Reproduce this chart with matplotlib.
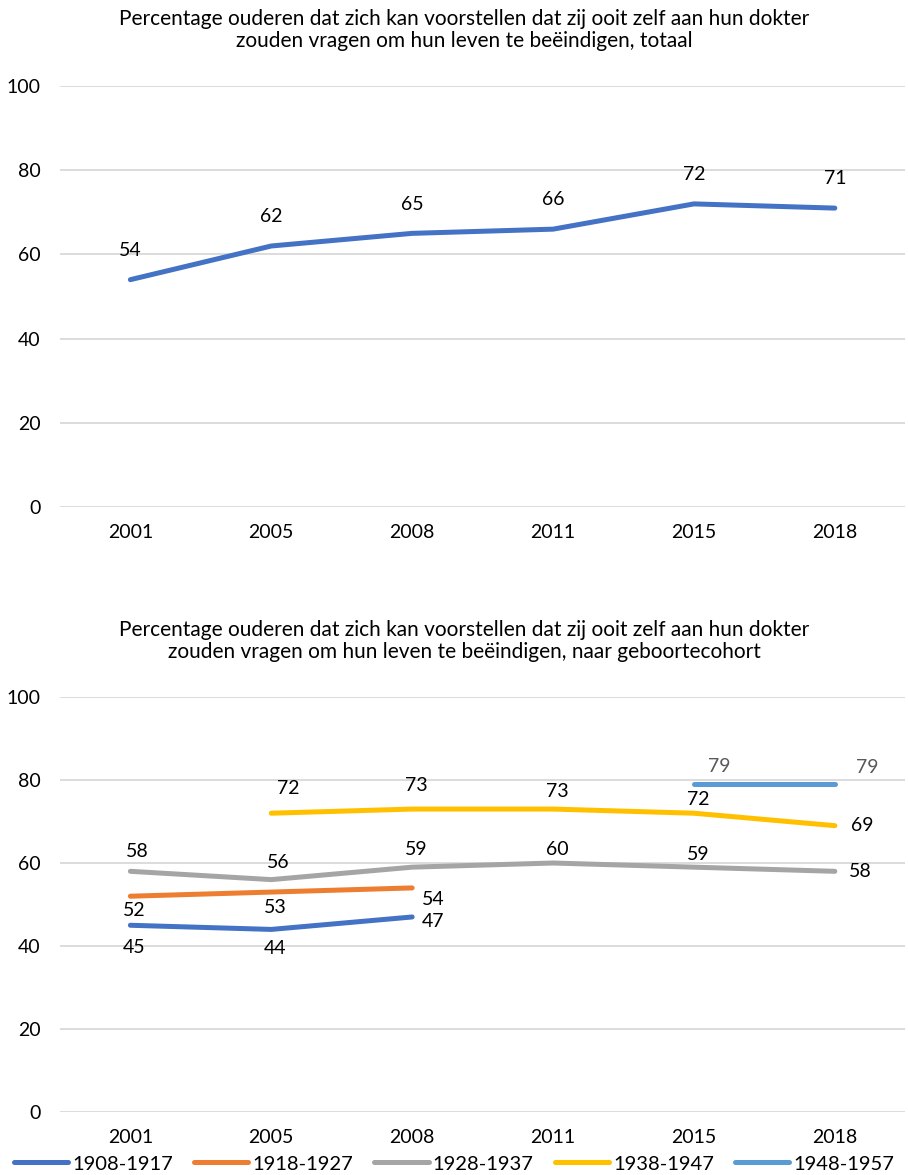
import matplotlib.pyplot as plt
import numpy as np

plt.rcParams['font.family'] = ['Lato', 'DejaVu Sans']

# Data
jaren = ['2001', '2005', '2008', '2011', '2015', '2018']
totaal = [54, 62, 65, 66, 72, 71]

cohorten = ['1908-1917', '1918-1927', '1928-1937', '1938-1947', '1948-1957']
cohort_waarden = {
    '1908-1917': [45, 44, 47, None, None, None],
    '1918-1927': [52, 53, 54, None, None, None],
    '1928-1937': [58, 56, 59, 60, 59, 58],
    '1938-1947': [None, 72, 73, 73, 72, 69],
    '1948-1957': [None, None, None, None, 79, 79],
}

titel1 = ('Percentage ouderen dat zich kan voorstellen dat zij ooit zelf aan hun dokter\n'
          'zouden vragen om hun leven te beëindigen, totaal')
titel2 = ('Percentage ouderen dat zich kan voorstellen dat zij ooit zelf aan hun dokter\n'
          'zouden vragen om hun leven te beëindigen, naar geboortecohort')

# Styles
kleuren = ['#4472C4', '#ED7D31', '#A5A5A5', '#FFC000', '#5B9BD5']
label_kleur = ['black', 'black', 'black', 'black', '#595959']
# label offsets (points) per cohort per point
offsets = {
    '1908-1917': [(3, -16), (3, -14), (15, -3)],
    '1918-1927': [(3, -10), (3, -11), (15, -8)],
    '1928-1937': [(5, 14), (5, 12), (3, 13), (3, 10), (3, 9), (18, 0)],
    '1938-1947': [(12, 18), (3, 17), (3, 13), (3, 10), (20, 0)],
    '1948-1957': [(18, 13), (23, 12)],
}

FS = 14
x = np.arange(len(jaren))
fig = plt.figure(figsize=(9.08, 11.75), dpi=100)


def opmaak(ax, titel):
    ax.set_xlim(-0.5, 5.5)
    ax.set_ylim(0, 100)
    ax.set_yticks([0, 20, 40, 60, 80, 100])
    ax.set_xticks(x)
    ax.set_xticklabels(jaren)
    ax.grid(axis='y', color='#D9D9D9', linewidth=1.3)
    ax.set_axisbelow(True)
    for s in ax.spines.values():
        s.set_visible(False)
    ax.tick_params(length=0, labelsize=FS, colors='black')
    ax.tick_params(axis='y', pad=14)
    ax.tick_params(axis='x', pad=12)
    ax.set_title(titel, fontsize=15, pad=28, linespacing=1.15, x=0.478)


ax1 = fig.add_axes([0.066, 0.5685, 0.931, 0.3583])
opmaak(ax1, titel1)
ax1.plot(x, totaal, color='#4472C4', linewidth=3.6, solid_capstyle='round')
for xi, v in zip(x, totaal):
    ax1.annotate(str(v), (xi, v), xytext=(0, 21), textcoords='offset points',
                 ha='center', va='center', fontsize=FS)

ax2 = fig.add_axes([0.066, 0.0536, 0.931, 0.3532])
opmaak(ax2, titel2)
for i, c in enumerate(cohorten):
    vals = cohort_waarden[c]
    xs = [xi for xi, v in zip(x, vals) if v is not None]
    ys = [v for v in vals if v is not None]
    ax2.plot(xs, ys, color=kleuren[i], linewidth=3.6, solid_capstyle='round', label=c)
    for (xi, v), off in zip(zip(xs, ys), offsets[c]):
        ax2.annotate(str(v), (xi, v), xytext=off, textcoords='offset points',
                     ha='center', va='center', fontsize=FS, color=label_kleur[i])

fig.legend(loc='center', bbox_to_anchor=(0.5, 0.0094), ncol=5, frameon=False,
           fontsize=14.5, handlelength=2.7, handletextpad=0.2, columnspacing=1.05,
           borderpad=0, borderaxespad=0)

fig.savefig('out.png', dpi=100)
